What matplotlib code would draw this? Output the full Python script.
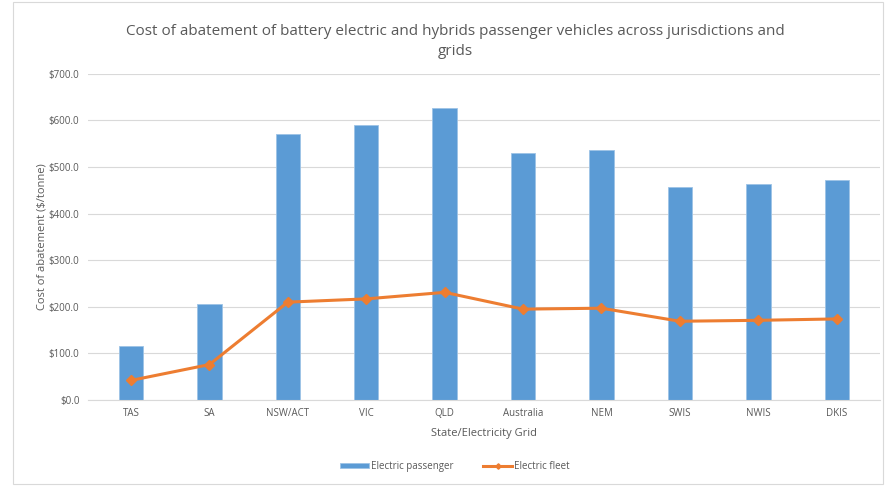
import numpy as np
import matplotlib.pyplot as plt
from matplotlib.patches import Rectangle

plt.rcParams['font.family'] = ['Open Sans', 'DejaVu Sans']

regions = ['TAS', 'SA', 'NSW/ACT', 'VIC', 'QLD', 'Australia', 'NEM', 'SWIS', 'NWIS', 'DKIS']
passenger = [116, 207, 572, 591, 626, 530, 536, 457, 464, 472]
fleet = [42, 76, 210, 217, 231, 195, 197, 169, 171, 174]
yticks = [0, 100, 200, 300, 400, 500, 600, 700]

txt = '#595959'
fig = plt.figure(figsize=(8.87, 4.86), dpi=100)
ax = fig.add_axes([0.099, 0.177, 0.893, 0.671])

x = np.arange(len(regions))
bars = ax.bar(x, passenger, width=0.31, color='#5B9BD5', edgecolor='#9DC3E6', linewidth=0.6,
              label='Electric passenger', zorder=2)
line, = ax.plot(x, fleet, color='#ED7D31', lw=2.2, marker='D', ms=5.5, label='Electric fleet', zorder=3)

ax.set_xlim(-0.55, 9.55)
ax.set_ylim(0, 700)
ax.set_yticks(yticks)
ax.set_yticklabels(['${:.1f}'.format(v) for v in yticks])
ax.set_xticks(x)
ax.set_xticklabels(regions)
ax.tick_params(axis='both', length=0, labelsize=7, colors=txt, pad=6)
ax.grid(axis='y', color='#d9d9d9', lw=0.8, zorder=0)
for s in ['top', 'right', 'left']:
    ax.spines[s].set_visible(False)
ax.spines['bottom'].set_color('#d9d9d9')

ax.set_xlabel('State/Electricity Grid', fontsize=8, color=txt, labelpad=6)
ax.set_ylabel('Cost of abatement ($/tonne)', fontsize=8, color=txt, labelpad=1)
fig.text(0.513, 0.95, 'Cost of abatement of battery electric and hybrids passenger vehicles across jurisdictions and\ngrids',
         ha='center', va='top', fontsize=11, color=txt, linespacing=1.45)

ax.legend(handles=[bars, line], loc='center', bbox_to_anchor=(0.513, 0.04),
          bbox_transform=fig.transFigure, ncol=2, frameon=False, fontsize=7, labelcolor=txt,
          handlelength=3.0, handleheight=0.5, handletextpad=0.2, columnspacing=3.0, markerscale=0.5)

fig.patches.append(Rectangle((0.015, 0.005), 0.98, 0.99, transform=fig.transFigure,
                             fill=False, edgecolor='#d9d9d9', lw=0.8))

fig.savefig('out.png', dpi=100)
